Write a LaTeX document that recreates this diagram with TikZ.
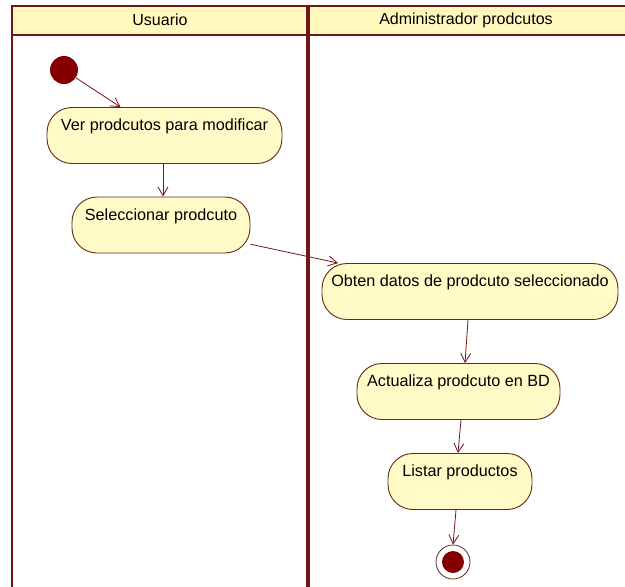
\documentclass[tikz,border=0pt]{standalone}
\usepackage{fontspec}
\setmainfont{Liberation Sans}
\usetikzlibrary{arrows.meta}
\definecolor{laneline}{RGB}{112,22,22}
\definecolor{headfill}{RGB}{255,249,190}
\definecolor{nodefill}{RGB}{255,250,198}
\definecolor{nodeborder}{RGB}{96,44,24}
\definecolor{arrowcol}{RGB}{118,22,22}
\definecolor{initfill}{RGB}{132,0,0}
\tikzset{
  activity/.style={draw=nodeborder, line width=0.9pt, fill=nodefill, rounded corners=25pt,
    inner xsep=0pt, inner ysep=0pt, text height=23pt, text depth=33pt,
    font=\fontsize{16.2pt}{18pt}\selectfont},
  flow/.style={draw=arrowcol, line width=0.8pt, -{Straight Barb[length=9pt,width=10pt,line width=0.8pt]}},
  lanehead/.style={font=\fontsize{16pt}{18pt}\selectfont, inner sep=0pt},
  lanerule/.style={draw=laneline, line width=2pt},
}
\begin{document}
\begin{tikzpicture}[x=1pt,y=1pt]
\useasboundingbox (0,0) rectangle (625,-587);
\fill[white] (0,0) rectangle (625,-587);
% header band
\fill[headfill] (12,-6) rectangle (626,-34.5);
\draw[lanerule] (626,-6) -- (12,-6) -- (12,-588);
\draw[lanerule] (12,-34.5) -- (626,-34.5);
\draw[draw=laneline, line width=4.5pt] (308,-5) -- (308,-588);
\node[lanehead] (h1) at (160,-20) {Usuario};
\node[lanehead] (h2) at (466,-20) {Administrador prodcutos};
% initial
\node[circle, fill=initfill, minimum size=28pt, inner sep=0pt] (init) at (64,-70) {};
% activities
\node[activity, minimum width=235pt] (ver) at (164.5,-135.5) {Ver prodcutos para modificar};
\node[activity, minimum width=178pt] (sel) at (161,-225) {Seleccionar prodcuto};
\node[activity, minimum width=296pt] (obten) at (470,-291.5) {Obten datos de prodcuto seleccionado};
\node[activity, minimum width=203pt] (act) at (458.5,-391.5) {Actualiza prodcuto en BD};
\node[activity, minimum width=144pt] (listar) at (460,-481.5) {Listar productos};
% final
\node[circle, draw=nodeborder, line width=0.8pt, fill=white, minimum size=34pt, inner sep=0pt,
  path picture={\fill[initfill] (path picture bounding box.center) circle (11pt);}] (final) at (453,-562) {};
% flows
\draw[flow] (init) -- ([xshift=-44pt]ver.north);
\draw[flow] ([xshift=-1.5pt]ver.south) -- ([xshift=2pt]sel.north);
\draw[flow] (sel) -- ([xshift=-132pt]obten.north);
\draw[flow] ([xshift=-2pt]obten.south) -- ([xshift=6.5pt]act.north);
\draw[flow] ([xshift=2.5pt]act.south) -- ([xshift=-2pt]listar.north);
\draw[flow] ([xshift=-4pt]listar.south) -- (final.north);
\end{tikzpicture}
\end{document}
